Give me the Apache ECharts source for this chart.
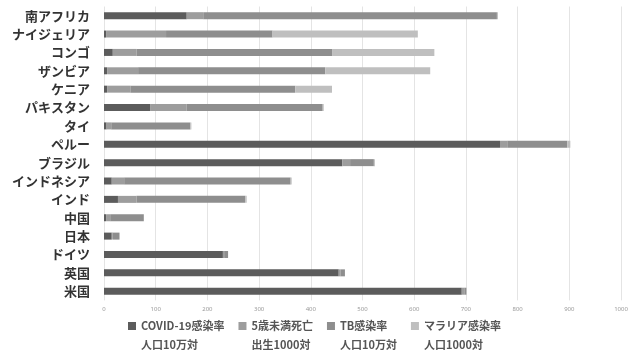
<!DOCTYPE html>
<html>
<head>
<meta charset="utf-8">
<script src="https://cdn.jsdelivr.net/npm/echarts@6/dist/echarts.min.js"></script>
<style>
  html, body { margin: 0; padding: 0; background: #fff; }
  #chart { width: 634px; height: 354px; }
</style>
</head>
<body>
<div id="chart"></div>
<script>
// Countries, top to bottom
const categories = ['南アフリカ', 'ナイジェリア', 'コンゴ', 'ザンビア', 'ケニア', 'パキスタン', 'タイ', 'ペルー',
  'ブラジル', 'インドネシア', 'インド', '中国', '日本', 'ドイツ', '英国', '米国'];

// Indicator names and their units (second legend line)
const seriesNames = ['COVID-19感染率', '5歳未満死亡', 'TB感染率', 'マラリア感染率'];
const seriesUnits = ['人口10万対', '出生1000対', '人口10万対', '人口1000対'];

// Values per country
const covid   = [160, 4, 17, 6, 6, 90, 5, 766, 461, 15, 27, 4, 15, 230, 454, 692];
const under5  = [32, 116, 46, 60, 45, 70, 9, 14, 15, 24, 36, 8, 2, 4, 4, 6];
const tb      = [568, 206, 379, 362, 319, 263, 153, 116, 46, 322, 210, 65, 13, 6, 8, 3];
const malaria = [2, 281, 197, 203, 71, 2, 2, 6, 2, 2, 3, 0, 0, 0, 0, 0];

const xTicks = { min: 0, max: 1000, interval: 100 };

const colors = ['#5c5c5c', '#9d9d9d', '#8e8e8e', '#bfbfbf'];
const values = [covid, under5, tb, malaria];

const chart = echarts.init(document.getElementById('chart'));
chart.setOption({
  animation: false,
  backgroundColor: '#ffffff',
  color: colors,
  grid: { left: 104, right: 13, top: 6.5, bottom: 53.6, containLabel: false },
  xAxis: {
    type: 'value',
    min: xTicks.min,
    max: xTicks.max,
    interval: xTicks.interval,
    axisLine: { show: false },
    axisTick: { show: false },
    axisLabel: {
      fontSize: 6, color: '#9a9a9a', margin: 6, fontFamily: 'Noto Sans',
      formatter: function (v) { return String(v); }
    },
    splitLine: { lineStyle: { color: '#e4e4e4', width: 1 } }
  },
  yAxis: {
    type: 'category',
    inverse: true,
    data: categories,
    axisLine: { show: false },
    axisTick: { show: false },
    axisLabel: {
      fontSize: 13, fontWeight: 'bold', color: '#333333', margin: 14,
      fontFamily: 'Noto Sans CJK JP'
    }
  },
  legend: {
    left: 128,
    top: 297.5,
    padding: 0,
    itemGap: 14,
    itemWidth: 8,
    itemHeight: 8,
    icon: 'rect',
    data: seriesNames,
    // a blank top line keeps the marker level with the name; unit goes below
    formatter: function (name) {
      return ' \n' + name + '\n' + seriesUnits[seriesNames.indexOf(name)];
    },
    textStyle: {
      fontSize: 11, fontWeight: 'bold', color: '#555555', lineHeight: 19,
      fontFamily: 'Noto Sans CJK JP'
    }
  },
  series: seriesNames.map(function (name, i) {
    return {
      name: name,
      type: 'bar',
      stack: 'total',
      barWidth: 7,
      data: values[i],
      itemStyle: { color: colors[i] }
    };
  })
});
</script>
</body>
</html>
